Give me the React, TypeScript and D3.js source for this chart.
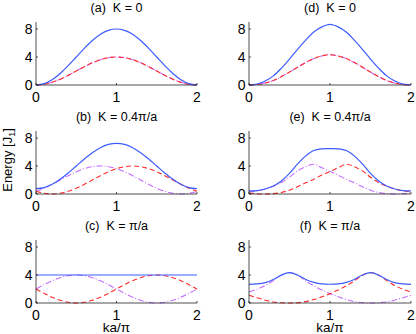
import React from 'react';
import * as d3 from 'd3';

// ka/π sample positions
const KA = [0, 0.1, 0.2, 0.3, 0.4, 0.5, 0.6, 0.7, 0.8, 0.9, 1, 1.1, 1.2, 1.3, 1.4, 1.5, 1.6, 1.7, 1.8, 1.9, 2];
const X_TICKS = [0, 1, 2];
const Y_TICKS = [0, 4, 8];

const TITLES = ['(a)  K = 0', '(b)  K = 0.4\u03c0/a', '(c)  K = \u03c0/a', '(d)  K = 0', '(e)  K = 0.4\u03c0/a', '(f)  K = \u03c0/a'];

// (a)
const A_BLUE = [0, 0.2, 0.76, 1.65, 2.76, 4, 5.24, 6.35, 7.24, 7.8, 8, 7.8, 7.24, 6.35, 5.24, 4, 2.76, 1.65, 0.76, 0.2, 0];
const A_RED = [0, 0.1, 0.38, 0.82, 1.38, 2, 2.62, 3.18, 3.62, 3.9, 4, 3.9, 3.62, 3.18, 2.62, 2, 1.38, 0.82, 0.38, 0.1, 0];
const A_PURPLE = [0, 0.1, 0.38, 0.82, 1.38, 2, 2.62, 3.18, 3.62, 3.9, 4, 3.9, 3.62, 3.18, 2.62, 2, 1.38, 0.82, 0.38, 0.1, 0];
// (b)
const B_BLUE = [0.76, 0.92, 1.38, 2.1, 3.0, 4, 5.0, 5.9, 6.62, 7.08, 7.24, 7.08, 6.62, 5.9, 5.0, 4, 3.0, 2.1, 1.38, 0.92, 0.76];
const B_RED = [0.38, 0.1, 0, 0.1, 0.38, 0.82, 1.38, 2, 2.62, 3.18, 3.62, 3.9, 4, 3.9, 3.62, 3.18, 2.62, 2, 1.38, 0.82, 0.38];
const B_PURPLE = [0.38, 0.82, 1.38, 2, 2.62, 3.18, 3.62, 3.9, 4, 3.9, 3.62, 3.18, 2.62, 2, 1.38, 0.82, 0.38, 0.1, 0, 0.1, 0.38];
// (c)
const C_BLUE = [4, 4, 4, 4, 4, 4, 4, 4, 4, 4, 4, 4, 4, 4, 4, 4, 4, 4, 4, 4, 4];
const C_RED = [2, 1.38, 0.82, 0.38, 0.1, 0, 0.1, 0.38, 0.82, 1.38, 2, 2.62, 3.18, 3.62, 3.9, 4, 3.9, 3.62, 3.18, 2.62, 2];
const C_PURPLE = [2, 2.62, 3.18, 3.62, 3.9, 4, 3.9, 3.62, 3.18, 2.62, 2, 1.38, 0.82, 0.38, 0.1, 0, 0.1, 0.38, 0.82, 1.38, 2];
// (d)
const D_BLUE = [0, 0.14, 0.56, 1.3, 2.4, 3.7, 5.1, 6.4, 7.56, 8.3, 8.66, 8.3, 7.56, 6.4, 5.1, 3.7, 2.4, 1.3, 0.56, 0.14, 0];
const D_RED = [0, 0.07, 0.28, 0.65, 1.2, 1.85, 2.55, 3.2, 3.78, 4.15, 4.33, 4.15, 3.78, 3.2, 2.55, 1.85, 1.2, 0.65, 0.28, 0.07, 0];
const D_PURPLE = [0, 0.07, 0.28, 0.65, 1.2, 1.85, 2.55, 3.2, 3.78, 4.15, 4.33, 4.15, 3.78, 3.2, 2.55, 1.85, 1.2, 0.65, 0.28, 0.07, 0];
// (e)
const E_BLUE = [0.45, 0.49, 0.72, 1.15, 1.87, 2.95, 4.3, 5.45, 6.22, 6.45, 6.48, 6.45, 6.22, 5.45, 4.3, 2.95, 1.87, 1.15, 0.72, 0.49, 0.45];
const E_RED = [0.15, 0.04, 0, 0.05, 0.22, 0.55, 1.05, 1.6, 2.1, 2.7, 3.22, 3.75, 4.25, 3.9, 3.3, 2.4, 1.65, 1.1, 0.72, 0.45, 0.3];
const E_PURPLE = [0.3, 0.45, 0.72, 1.1, 1.65, 2.4, 3.3, 3.9, 4.25, 3.75, 3.22, 2.7, 2.1, 1.6, 1.05, 0.55, 0.22, 0.05, 0, 0.04, 0.15];
// (f)
const F_BLUE = [2.67, 2.72, 2.9, 3.35, 4.0, 4.33, 4.0, 3.35, 2.95, 2.73, 2.68, 2.73, 2.95, 3.35, 4.0, 4.33, 4.0, 3.35, 2.9, 2.72, 2.67];
const F_RED = [1.1, 0.75, 0.4, 0.15, 0.03, 0, 0.04, 0.2, 0.5, 0.88, 1.34, 1.85, 2.45, 3.15, 3.96, 4.33, 3.97, 3.2, 2.5, 1.97, 1.57];
const F_PURPLE = [1.57, 1.97, 2.5, 3.2, 3.97, 4.33, 3.96, 3.15, 2.45, 1.85, 1.34, 0.88, 0.5, 0.2, 0.04, 0, 0.03, 0.15, 0.4, 0.75, 1.1];

const BLUES = [A_BLUE, B_BLUE, C_BLUE, D_BLUE, E_BLUE, F_BLUE];
const REDS = [A_RED, B_RED, C_RED, D_RED, E_RED, F_RED];
const PURPLES = [A_PURPLE, B_PURPLE, C_PURPLE, D_PURPLE, E_PURPLE, F_PURPLE];

const W = 416;
const H = 334;
const COL_X: [number, number][] = [[36, 197], [249, 411]];
const ROW_Y0 = [85, 194, 303];
const FONT = 'Liberation Sans, Arial, Helvetica, sans-serif';
const BLUE = '#3c5cff';
const RED = '#ff2b2b';
const PURPLE = '#c46cff';

function Panel({ idx }: { idx: number }) {
  const col = idx < 3 ? 0 : 1;
  const row = idx % 3;
  const x = d3.scaleLinear().domain([0, 2]).range(COL_X[col]);
  const y0 = ROW_Y0[row];
  const y = d3.scaleLinear().domain([0, 9]).range([y0, y0 - 63]);
  const line = (vals: number[]) =>
    d3.line<number>()
      .x((_, i) => x(KA[i]))
      .y((v) => y(v))
      .curve(d3.curveCatmullRom.alpha(0.5))(vals) || '';
  const [xa, xb] = COL_X[col];
  const cx = (xa + xb) / 2;
  return (
    <g>
      <text x={cx} y={y0 - 73} textAnchor="middle" fontSize={12.5} fontFamily={FONT} style={{ whiteSpace: 'pre' }}>
        {TITLES[idx]}
      </text>
      <path d={line(PURPLES[idx])} fill="none" stroke={PURPLE} strokeWidth={1.1} strokeDasharray="6 2 1 2" />
      <path d={line(REDS[idx])} fill="none" stroke={RED} strokeWidth={1.1} strokeDasharray="5 3" />
      <path d={line(BLUES[idx])} fill="none" stroke={BLUE} strokeWidth={1.2} />
      <line x1={x(0)} x2={x(2)} y1={y(0)} y2={y(0)} stroke="#222" strokeWidth={0.8} />
      <line x1={x(0)} x2={x(0)} y1={y(0)} y2={y(9)} stroke="#222" strokeWidth={0.8} />
      {X_TICKS.map((t) => (
        <g key={'x' + t}>
          <line x1={x(t)} x2={x(t)} y1={y(0)} y2={y(0) - 2} stroke="#222" strokeWidth={0.8} />
          <text x={x(t)} y={y0 + 16.5} textAnchor="middle" fontSize={14} fontFamily={FONT}>{t}</text>
        </g>
      ))}
      {Y_TICKS.map((t) => (
        <g key={'y' + t}>
          <line x1={x(0)} x2={x(0) + 2} y1={y(t)} y2={y(t)} stroke="#222" strokeWidth={0.8} />
          <text x={x(0) - 3.5} y={y(t) + 5} textAnchor="end" fontSize={14} fontFamily={FONT}>{t}</text>
        </g>
      ))}
      {row === 2 && (
        <text x={cx} y={332} textAnchor="middle" fontSize={13.5} fontFamily={FONT}>ka/{'\u03c0'}</text>
      )}
    </g>
  );
}

export default function App() {
  return (
    <svg width={W} height={H} style={{ position: 'absolute', left: 0, top: 0, background: '#fff' }}>
      <rect width={W} height={H} fill="#fff" />
      {[0, 1, 2, 3, 4, 5].map((i) => <Panel key={i} idx={i} />)}
      <text transform="translate(12,160) rotate(-90)" textAnchor="middle" fontSize={13} fontFamily={FONT}>
        <tspan>Energy [J</tspan>
        <tspan fontSize={9} dy={3}>1</tspan>
        <tspan dy={-3}>]</tspan>
      </text>
    </svg>
  );
}
